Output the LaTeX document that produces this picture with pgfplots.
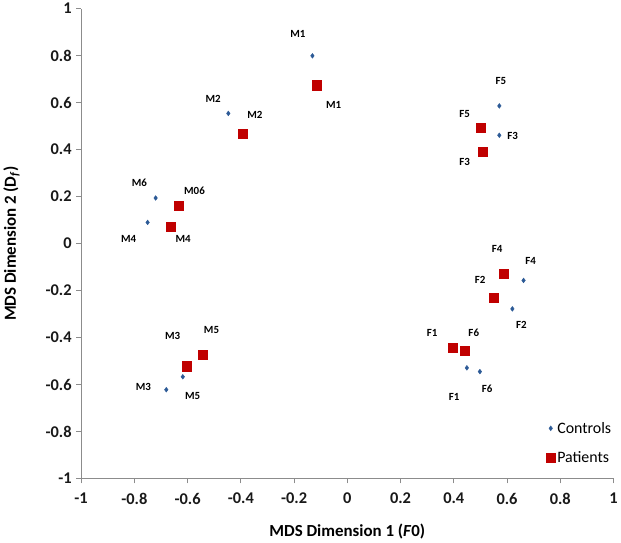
\documentclass[border=0pt]{standalone}
\usepackage{fontspec}
\setmainfont{Carlito}
\usepackage{pgfplots}
\usepackage{pgfplotstable}
\pgfplotsset{compat=1.18}
\definecolor{ctrlblue}{HTML}{2C5A96}
\definecolor{patred}{HTML}{C00000}
\definecolor{axgray}{HTML}{8C8C8C}

\pgfplotstableread{
x y
-0.131 0.799
-0.447 0.554
-0.720 0.194
-0.750 0.090
-0.618 -0.567
-0.680 -0.622
0.571 0.586
0.571 0.461
0.662 -0.157
0.620 -0.278
0.449 -0.529
0.498 -0.545
}\ctrltab

\pgfplotstableread{
x y
-0.116 0.674
-0.393 0.467
-0.632 0.160
-0.662 0.073
-0.602 -0.522
-0.544 -0.473
0.502 0.494
0.507 0.391
0.586 -0.128
0.550 -0.232
0.395 -0.445
0.441 -0.457
}\pattab

\pgfplotstableread{
x y label
-0.186 0.891 M1
-0.504 0.617 M2
-0.781 0.259 M6
-0.821 0.019 M4
-0.766 -0.611 M3
-0.581 -0.648 M5
0.577 0.694 F5
0.621 0.460 F3
0.689 -0.076 F4
0.654 -0.347 F2
0.401 -0.655 F1
0.525 -0.617 F6
-0.051 0.591 M1
-0.347 0.547 M2
-0.574 0.225 M06
-0.617 0.019 M4
-0.656 -0.392 M3
-0.510 -0.370 M5
0.441 0.550 F5
0.441 0.347 F3
0.563 -0.024 F4
0.499 -0.156 F2
0.319 -0.382 F1
0.475 -0.382 F6
}\labtab

\begin{document}
\begin{tikzpicture}
\begin{axis}[
  scale only axis, width=536pt, height=473pt,
  xmin=-1, xmax=1, ymin=-1, ymax=1,
  axis x line*=bottom, axis y line*=left,
  axis line style={axgray, line width=0.8pt, -},
  xtick={-1,-0.8,-0.6,-0.4,-0.2,0,0.2,0.4,0.6,0.8,1},
  ytick={-1,-0.8,-0.6,-0.4,-0.2,0,0.2,0.4,0.6,0.8,1},
  xticklabels={-1,-0.8,-0.6,-0.4,-0.2,0,0.2,0.4,0.6,0.8,1},
  yticklabels={-1,-0.8,-0.6,-0.4,-0.2,0,0.2,0.4,0.6,0.8,1},
  tick style={axgray, line width=0.8pt},
  tick align=outside, major tick length=5pt,
  ticklabel style={font=\bfseries\fontsize{16.5}{16.5}\selectfont, text=black!90},
  xticklabel style={yshift=-6pt},
  yticklabel style={xshift=-1pt},
  xlabel={MDS Dimension 1 (\textit{F}0)},
  ylabel={MDS Dimension 2 (D\textsubscript{\textit{f}})},
  label style={font=\bfseries\fontsize{17}{17}\selectfont},
  xlabel style={at={([yshift=-53pt]axis description cs:0.5,0)}, anchor=center},
  ylabel style={at={([xshift=-70pt]axis description cs:0,0.5)}, anchor=center},
  clip=false,
  legend style={at={(axis cs:0.735,-0.742)}, anchor=north west, draw=none, fill=none,
    font=\fontsize{16}{16}\selectfont, row sep=13pt},
  legend cell align=left,
]
\addplot[only marks, mark=diamond*, mark size=2.4pt, color=ctrlblue] table {\ctrltab};
\addlegendentry{Controls}
\addplot[only marks, mark=square*, mark size=4.6pt, color=patred] table {\pattab};
\addlegendentry{Patients}
\addplot[only marks, mark=none, forget plot, nodes near coords, point meta=explicit symbolic,
  every node near coord/.append style={anchor=center, inner sep=0pt, font=\bfseries\fontsize{11}{11}\selectfont}]
  table[meta=label] {\labtab};
\end{axis}
\end{tikzpicture}
\end{document}
